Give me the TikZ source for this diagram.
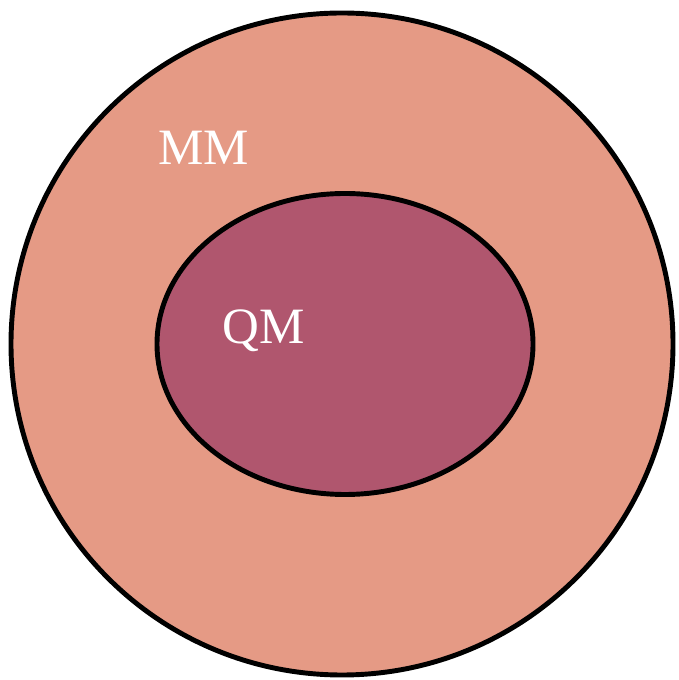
\documentclass[tikz,border=0pt]{standalone}
\usepackage{fontspec}
\setmainfont{Liberation Serif}
\usepackage{tikz}

\definecolor{outerfill}{HTML}{E59A85}
\definecolor{innerfill}{HTML}{B0566E}

\begin{document}
\begin{tikzpicture}[label/.style={text=white,font=\fontsize{29}{34}\selectfont}]
        \useasboundingbox (0,0) rectangle (13.58,13.6);
        \draw[line width=2.8pt,fill=outerfill] (6.84,6.72) circle (6.62cm);
        \draw[line width=2.8pt,fill=innerfill] (6.9,6.72) ellipse (3.76cm and 3.01cm);
        \node[label] (mm) at (4.08,10.64) {MM};
        \node[label] (qm) at (5.28,6.98) {QM};
    \end{tikzpicture}
\end{document}
